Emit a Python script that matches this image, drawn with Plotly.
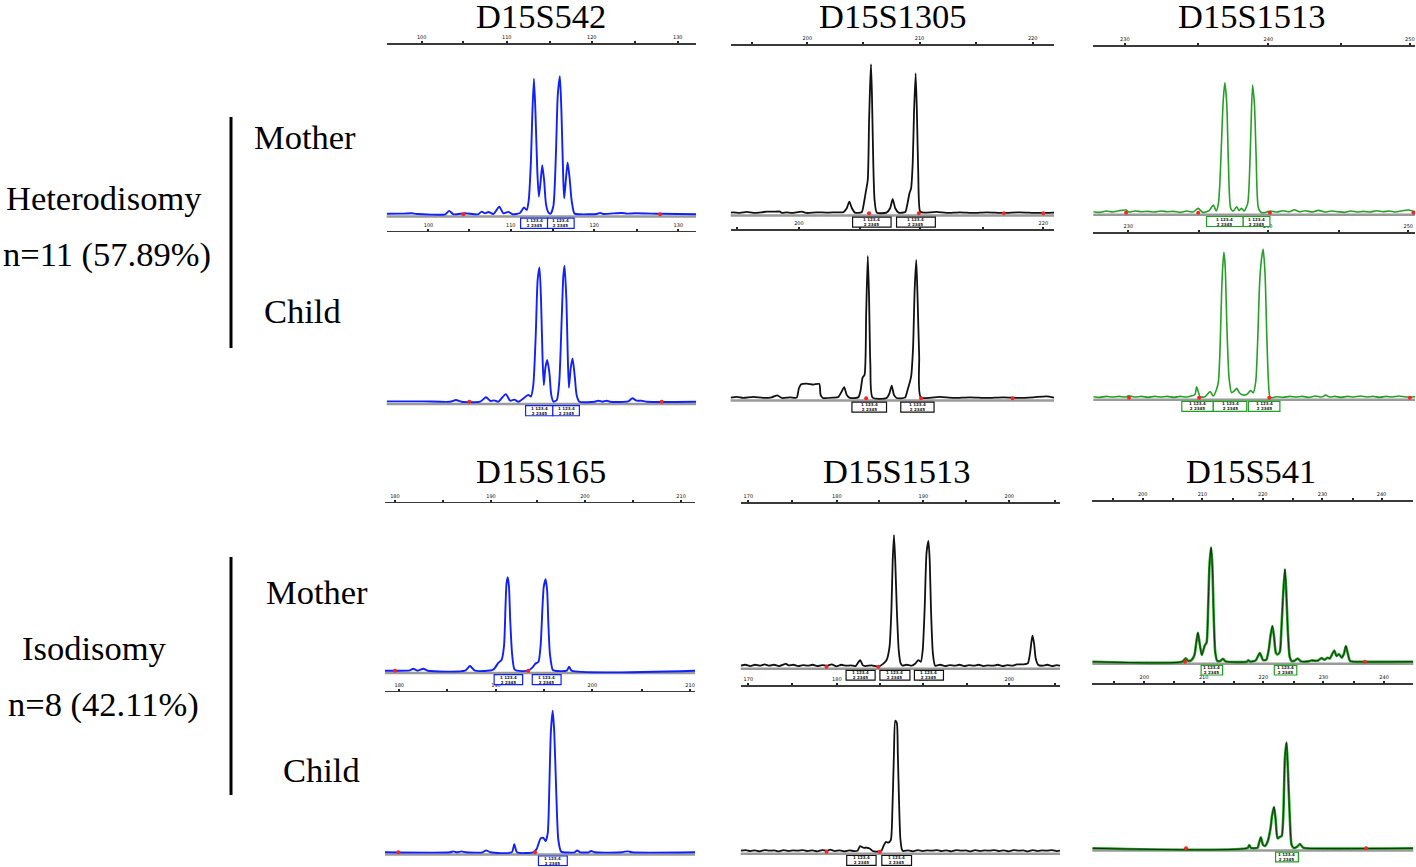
import plotly.graph_objects as go

W, H = 1416, 867

# ---------------- data (size axis 0-100 %, signal 0-100 % of panel height) ----------------
A1_x = [0, 5.4, 8.1, 9.7, 18.9, 20.2, 21.6, 25.3, 29.5, 30.7, 31.8, 32.9, 34.5, 36.4, 37.7, 39.3, 40.7, 43.1, 44.4, 45.3, 45.9, 46.6, 47.1, 47.6, 48.1, 48.7, 49.2, 49.8, 50.3, 50.9, 51.5, 52.3, 53.0, 53.9, 54.7, 55.3, 56.0, 56.5, 57.1, 57.4, 58.0, 58.5, 59.1, 59.8, 60.7, 62.5, 67.9, 69.0, 70.0, 76.0, 77.6, 80.3, 88.4, 100]
A1_y = [0.3, 0.4, 0.6, 0.2, 0, 2.0, 0, 0.6, 0, 1.6, 0.6, 1.4, 0.2, 4.5, 0.6, 1.4, 0, 0.8, 4.0, 2.5, 8, 30, 60, 80, 60, 25, 10.4, 20, 29, 20, 6, 1, 0.4, 5, 35, 70, 81.5, 60, 20, 9.4, 22, 30.6, 22, 8, 0.5, 0, 0.2, 0.8, 0.2, 0.8, 0.4, 0.6, 0.3, 0]

A2_x = [0, 11.9, 20.5, 22.4, 24.2, 30.2, 32.1, 33.6, 34.7, 36.1, 38.5, 39.9, 41.3, 42.6, 45.8, 46.6, 47.4, 48.2, 48.8, 49.4, 49.9, 50.4, 50.8, 51.3, 51.9, 52.6, 53.2, 53.9, 55.0, 55.8, 56.6, 57.1, 57.5, 58.1, 58.5, 58.9, 59.5, 60.1, 60.8, 61.4, 62.3, 67.3, 68.4, 69.8, 71.1, 72.2, 78.1, 79.4, 80.8, 82.4, 84.1, 100]
A2_y = [0.2, 0.2, 0, 1.0, 0, 0, 2.6, 0.4, 0.8, 0, 4.5, 0.6, 1.2, 0, 4, 3, 10, 40, 72, 79.3, 60, 25, 9.8, 20, 24.6, 17, 4, 0, 1, 12, 50, 74, 80.3, 60, 30, 8.3, 20, 25.6, 15, 4, 0, 0, 0.6, 0, 0.6, 0, 0.2, 2, 0.6, 0.6, 0, 0]

B1_x = [0, 0.8, 2.9, 5.0, 7.0, 9.6, 11.1, 13.2, 15.3, 15.8, 17.3, 18.9, 22.0, 23.5, 26.6, 29.7, 32.8, 34.8, 35.9, 36.7, 37.5, 38.4, 40.5, 41.2, 41.8, 42.4, 42.8, 43.1, 43.4, 43.7, 44.1, 44.5, 45.2, 48.2, 49.3, 50.1, 50.9, 51.9, 54.0, 54.6, 55.3, 55.8, 56.3, 56.7, 57.2, 57.6, 58.0, 58.6, 59.6, 63.7, 66.8, 70.9, 75.1, 79.2, 84.3, 89.5, 94.6, 100]
B1_y = [0.4, 0.6, 0.2, 0.8, 0.2, 0.6, 1.0, 1.0, 1.0, 0.2, 0.6, 0.2, 1.0, 0.2, 0.6, 0.4, 0.6, 0.6, 3, 7.0, 3, 0.4, 0.6, 6, 12.9, 20, 55, 75, 88.9, 70, 30, 8, 0.4, 0.4, 3, 8.5, 3, 0.4, 0.8, 5, 12, 14.9, 30, 60, 83.5, 60, 25, 1, 0.4, 0.8, 0.2, 0.6, 0.2, 0.6, 0.2, 0.6, 0.2, 0.4]

B2_x = [0, 1.9, 3.9, 7.0, 10.1, 12.7, 14.4, 15.8, 18.4, 20.4, 21.1, 21.8, 23.5, 25.6, 27.4, 27.8, 28.5, 31.8, 33.3, 34.3, 35.1, 35.9, 36.9, 39.5, 40.2, 40.8, 41.4, 41.9, 42.4, 42.8, 43.2, 43.9, 48.2, 49.1, 49.8, 50.5, 51.3, 53.9, 54.7, 55.8, 56.4, 56.9, 57.4, 57.8, 58.3, 58.8, 64.7, 68.9, 74.0, 79.2, 84.3, 89.5, 93.6, 97.7, 100]
B2_y = [0.4, 0.8, 0.2, 0.8, 0.2, 0.6, 1.8, 0.2, 0.6, 0.4, 6, 8.4, 8.8, 8.2, 8.6, 2, 0.2, 0.4, 0.8, 4, 6.6, 2, 0.2, 0.6, 5, 12.4, 14, 50, 85.1, 60, 20, 0.4, 0.2, 3, 7.6, 2, 0.2, 0.4, 5, 13, 30, 65, 82.7, 60, 25, 0.6, 0.8, 0.2, 0.6, 0.2, 0.6, 0.2, 0.6, 1.2, 0.4]

C1_x = [0, 2, 4, 6, 8, 10.2, 11, 13, 15, 17, 19, 21, 23, 25, 27, 29, 31, 32.6, 34, 36, 37.3, 38.2, 38.9, 39.4, 39.9, 40.4, 40.9, 41.5, 42.0, 42.7, 43.5, 44.6, 45.3, 46.1, 46.9, 48.0, 48.5, 49.0, 49.5, 50.1, 50.6, 51.3, 52.3, 53.9, 55, 57, 59, 61, 62.5, 64, 66, 68, 70, 72, 74, 76, 78, 80, 82, 84, 86, 88, 90, 92, 94, 96, 98, 100]
C1_y = [0.6, 0.2, 1.0, 0.4, 1.2, 1.6, 0.4, 1.0, 0.6, 0.8, 0.4, 1.0, 0.6, 0.8, 0.2, 1.0, 0.4, 2.6, 0.2, 1.2, 4.6, 1.0, 5.6, 20, 45, 68, 78.3, 65, 30, 2.6, 1.0, 3.6, 1.2, 2.6, 1.0, 5.6, 20, 50, 76.9, 65, 35, 3, 0, 0.4, 1.0, 0.4, 1.2, 0.6, 1.8, 0.6, 1.2, 0.4, 1.4, 0.4, 1.0, 0.6, 0.2, 1.0, 0.4, 0.8, 0.4, 1.2, 0.6, 1.0, 0.4, 1.2, 1.6, 0.6]

C2_x = [0, 2, 4, 6, 8, 10, 11, 13, 15, 17, 19, 21, 23, 25, 27, 29, 31.6, 32.1, 32.6, 33.2, 34.7, 36.3, 37.3, 38.3, 38.9, 39.4, 39.9, 40.3, 40.6, 41.0, 41.5, 42.2, 43.0, 43.8, 44.6, 45.4, 46.6, 47.7, 48.9, 49.7, 50.5, 51.1, 51.7, 52.3, 52.8, 53.4, 53.9, 54.4, 55.0, 57, 59, 61, 63, 65, 67, 69, 71, 72.2, 73.5, 75, 77, 79, 81, 83, 85, 87, 89, 91, 93, 95, 97, 100]
C2_y = [0.6, 0.2, 0.8, 0.4, 0.8, 0.4, 1.2, 0.4, 0.8, 0.2, 0.8, 0.4, 0.8, 0.2, 0.8, 0.4, 2, 6.7, 4, 0.5, 0.6, 3.7, 1, 5, 10, 30, 65, 82, 88.8, 80, 45, 12, 3, 4, 5.7, 3, 1.6, 2, 4.3, 3, 10, 35, 70, 85, 90.8, 75, 40, 12, 0, 0.6, 0.2, 0.8, 0.4, 0.8, 0.2, 1.0, 0.4, 1.6, 0.4, 0.8, 0.2, 0.8, 0.4, 1.0, 0.4, 0.8, 0.2, 0.8, 0.4, 1.0, 0.4, 0.6]

D1_x = [0, 3.2, 8, 9.1, 10.5, 12.4, 13.8, 25.8, 27.4, 29, 34.9, 36.6, 37.6, 38.4, 38.9, 39.2, 39.6, 40.0, 40.4, 41.0, 41.7, 42.5, 46.2, 47.6, 48.4, 49.5, 50.2, 50.8, 51.2, 51.8, 52.3, 52.7, 53.2, 54.1, 54.8, 58.6, 59.4, 60.2, 100]
D1_y = [0, 0, 0.2, 1.2, 0, 1.2, 0, 0, 2.8, 0, 0.6, 4.8, 6.4, 15, 40, 52, 55.8, 50, 30, 10, 1, 0, 0, 2, 4, 5.4, 15, 38, 50, 54.6, 48, 28, 10, 0.5, 0, 0, 2.4, 0, 0]

D2_x = [0, 21, 22.0, 23.2, 24.7, 26, 31.5, 32.6, 34, 40.9, 41.7, 42.6, 47.8, 48.9, 50.2, 51.1, 51.8, 52.5, 53.0, 53.5, 54.1, 54.6, 55.2, 55.9, 56.8, 57.5, 61.2, 62.0, 62.9, 65.7, 66.5, 67.7, 76.5, 77.4, 78.5, 79.6, 100]
D2_y = [0, 0, 0.6, 0, 0.6, 0, 0, 1.2, 0, 0, 5, 0, 0, 2, 8.7, 9, 7, 12, 40, 75, 88.5, 75, 40, 8, 0.5, 0, 0, 1.2, 0, 0, 0.8, 0, 0, 0.4, 0.6, 0, 0]

E1_x = [0, 1.5, 3, 4.5, 6, 7.5, 9, 10.5, 12, 13.5, 14.2, 15, 16.5, 18, 19.5, 21, 22.5, 24, 25.5, 27, 28.5, 30, 31.5, 33, 34.5, 36, 37.4, 38.2, 39, 41, 42.5, 43.5, 44.5, 45.7, 46.6, 47.2, 47.6, 48.0, 48.4, 48.9, 49.5, 50.1, 50.7, 52.0, 53.5, 54.7, 55.6, 56.4, 57.0, 57.6, 58.2, 58.8, 59.2, 59.6, 60.2, 60.9, 62.5, 64, 65.5, 67, 68.5, 70, 71.5, 73, 74.5, 76, 77.5, 79, 80.5, 82, 83.5, 85, 86.5, 88.5, 89.9, 90.6, 91.1, 91.4, 91.9, 92.4, 93.2, 94.5, 96, 97.5, 99, 100]
E1_y = [0.6, 1.2, 0.4, 1.2, 0.6, 1.4, 0.6, 1.2, 0.4, 1.4, 1.8, 0.8, 1.2, 0.4, 1.0, 0.6, 1.2, 0.4, 1.0, 0.6, 1.4, 0.2, 1.2, 0.6, 0.8, 0.4, 4.1, 1, 0.4, 0.8, 0.2, 0.4, 1.6, 4.1, 12, 35, 65, 80.9, 65, 35, 10, 2, 0.6, 1.2, 0.6, 2, 4.1, 3, 10, 35, 70, 77.3, 65, 35, 8, 0.6, 1.2, 0.4, 1.0, 0.6, 1.2, 0.4, 1.0, 0.6, 1.2, 0.4, 0.8, 0.6, 1.2, 0.4, 1.0, 0.6, 1.4, 1.4, 2, 8, 16, 19.1, 14, 5, 1, 0.6, 1.2, 0.4, 1.0, 0.6]

E2_x = [0, 1.5, 3, 4.5, 6, 7.5, 9, 10.5, 12, 13.5, 15, 16.5, 18, 19.5, 21, 22.5, 24, 25.5, 27, 28.0, 29.5, 31, 32.5, 34, 35.5, 36.6, 37.4, 38.4, 39.5, 40.5, 41.3, 43.1, 44.2, 44.7, 45.5, 46.2, 47.0, 47.5, 48.0, 48.4, 48.9, 49.2, 49.6, 50.0, 50.5, 50.9, 52.5, 54, 55.5, 57, 58.5, 60, 61.5, 63, 64.5, 66, 67.5, 69, 70.5, 72, 73.5, 75, 76.5, 78, 79.5, 81, 82.5, 84, 85.5, 87, 88.5, 90, 91.5, 93, 94.5, 96, 97.5, 99, 100]
E2_y = [0.6, 1.0, 0.4, 0.8, 0.2, 1.0, 0.6, 0.8, 0.2, 1.0, 0.4, 0.8, 0.6, 1.0, 0.4, 0.8, 0.2, 1.0, 0.6, 1.2, 0.4, 0.8, 0.2, 0.8, 0.4, 0.6, 3.4, 2.4, 2.4, 1.8, 0.4, 0.2, 1.0, 3.4, 6, 5.5, 7, 25, 60, 79.4, 78, 60, 30, 8, 1.2, 0.4, 0.8, 0.2, 1.0, 0.4, 0.8, 0.6, 1.0, 0.4, 0.8, 0.2, 1.0, 0.6, 0.8, 0.2, 1.0, 0.4, 0.8, 0.6, 1.0, 0.4, 0.8, 0.2, 1.0, 0.6, 0.8, 0.2, 1.0, 0.4, 0.8, 0.6, 1.0, 0.4, 0.6]

F1_x = [0, 28, 29.1, 29.9, 30.9, 31.8, 32.4, 32.9, 33.4, 34.1, 34.7, 35.1, 35.6, 36.1, 36.5, 37.0, 37.4, 37.8, 38.3, 38.9, 39.8, 40.7, 41.5, 48.1, 48.6, 49.3, 50.9, 52.2, 53.2, 54.2, 55.0, 55.5, 56.1, 56.6, 57.2, 57.7, 58.4, 58.9, 59.4, 60.0, 60.4, 60.9, 61.5, 62.1, 63.0, 64.0, 65.0, 67.3, 68.3, 69.4, 70.4, 71.4, 72.3, 73.3, 74.0, 74.8, 75.4, 76.1, 76.8, 77.7, 78.4, 79.0, 79.6, 80.3, 81.3, 100]
F1_y = [0, 0, 2.1, 0.4, 1.0, 4, 12, 18.1, 12, 4.2, 8, 10.4, 12, 35, 60, 71.3, 60, 30, 6, 0.6, 0.4, 1.8, 0.2, 0, 0.8, 0, 0.8, 5.4, 1.0, 1.2, 8, 16, 22.3, 16, 5.5, 4.5, 6, 20, 40, 57.7, 45, 20, 3, 0.4, 0.6, 2, 0.2, 0.2, 0.8, 0.6, 0.8, 2.3, 1.2, 2.5, 2, 5, 6.9, 3.5, 4.8, 2.5, 5, 9.8, 5, 0.4, 0, 0]

F2_x = [0, 48.4, 48.9, 49.4, 51.5, 51.9, 52.5, 53.2, 53.8, 54.6, 55.5, 56.0, 56.6, 57.1, 57.7, 58.4, 59.0, 59.5, 60.0, 60.5, 60.9, 61.5, 62.1, 62.8, 63.7, 64.7, 65.7, 66.8, 100]
F2_y = [0, 0.2, 2.0, 0.2, 0.4, 3, 6.7, 2, 1.4, 4, 12, 20, 25.3, 18, 6.1, 7, 7.5, 20, 55, 64.7, 50, 20, 2, 0.2, 0.8, 2.6, 0.4, 0, 0]

# allele-call windows (size range) and red marker sizes
A1_calls = [(43.3, 52.0), (52.0, 60.6)]
A2_calls = [(44.9, 53.7), (53.7, 62.3)]
B1_calls = [(37.7, 49.6), (51.3, 63.3)]
B2_calls = [(37.5, 48.2), (52.6, 62.9)]
C1_calls = [(35.2, 46.6), (46.6, 54.9)]
C2_calls = [(27.5, 37.3), (37.3, 47.7), (48.2, 58.0)]
D1_calls = [(35.2, 44.4), (47.5, 56.8)]
D2_calls = [(49.5, 58.8)]
E1_calls = [(33.0, 42.1), (43.6, 53.0), (54.4, 63.5)]
E2_calls = [(33.2, 42.4), (44.2, 53.5)]
F1_calls = [(33.9, 40.6), (56.7, 63.7)]
F2_calls = [(57.1, 64.2)]

A1_red = [24.8, 88.4]; A2_red = [26.7, 88.9]
B1_red = [42.8, 58.2, 84.5, 96.7]; B2_red = [41.9, 58.9, 87.2]
C1_red = [10.2, 32.6, 54.9, 99.5]; C2_red = [11.1, 32.9, 54.7, 98.4]
D1_red = [3.2, 46.2]; D2_red = [4.3, 48.4]
E1_red = [26.9, 43.1]; E2_red = [26.9, 43.6]
F1_red = [28.9, 84.9]; F2_red = [29.2, 85.3]

# top-axis ticks
A1_major = [11.3, 38.8, 66.3, 94.1]; A1_minor = [24.8, 52.8, 80.3]; A1_lab = ["100", "110", "120", "130"]
A2_major = [13.5, 40.1, 67.1, 94.3]; A2_minor = [26.7, 53.7, 80.8]; A2_lab = ["100", "110", "120", "130"]
B1_major = [23.7, 58.4, 93.4]; B1_minor = [6.5, 41.0, 75.9]; B1_lab = ["200", "210", "220"]
B2_major = [21.1, 58.6, 96.7]; B2_minor = [2.1, 40.0, 78.1]; B2_lab = ["200", "210", "220"]
C1_major = [9.8, 54.4, 98.4]; C1_minor = [32.6, 76.9]; C1_lab = ["230", "240", "250"]
C2_major = [10.9, 54.2, 97.9]; C2_minor = [33.0, 76.5]; C2_lab = ["230", "240", "250"]
D1_major = [3.2, 34.2, 64.5, 95.5]; D1_minor = [18.8, 49.1, 80.1]; D1_lab = ["180", "190", "200", "210"]
D2_major = [4.6, 35.8, 66.9, 98.4]; D2_minor = [20.1, 51.4, 82.8]; D2_lab = ["180", "190", "200", "210"]
E1_major = [2.4, 30.1, 57.2, 84.1]; E1_minor = [16.2, 43.4, 70.6, 98.4]; E1_lab = ["170", "180", "190", "200"]
E2_major = [2.4, 30.1, 57.2, 84.1]; E2_minor = [16.2, 43.6, 70.8, 98.4]; E2_lab = ["170", "180", "190", "200"]
F1_major = [15.7, 34.3, 53.1, 71.7, 90.1]; F1_minor = [6.3, 25.2, 43.9, 62.6, 81.3]; F1_lab = ["200", "210", "220", "230", "240"]
F2_major = [16.2, 34.7, 53.3, 72.0, 90.9]; F2_minor = [6.9, 25.5, 44.1, 62.8, 81.5]; F2_lab = ["200", "210", "220", "230", "240"]

BLUE, BLACK, GREEN = "#1020ff", "#111111", "#25a025"

PANELS = [
    dict(x=A1_x, y=A1_y, c=BLUE, g=(386.7, 696, 44.7, 214.3), mj=A1_major, mn=A1_minor, lb=A1_lab, calls=A1_calls, red=A1_red),
    dict(x=A2_x, y=A2_y, c=BLUE, g=(386.7, 696, 232.3, 401.7), mj=A2_major, mn=A2_minor, lb=A2_lab, calls=A2_calls, red=A2_red),
    dict(x=B1_x, y=B1_y, c=BLACK, g=(730.7, 1054, 45.7, 213.3), mj=B1_major, mn=B1_minor, lb=B1_lab, calls=B1_calls, red=B1_red),
    dict(x=B2_x, y=B2_y, c=BLACK, g=(730.7, 1054, 231, 398.3), mj=B2_major, mn=B2_minor, lb=B2_lab, calls=B2_calls, red=B2_red),
    dict(x=C1_x, y=C1_y, c=GREEN, g=(1093.3, 1415, 46.7, 212.7), mj=C1_major, mn=C1_minor, lb=C1_lab, calls=C1_calls, red=C1_red),
    dict(x=C2_x, y=C2_y, c=GREEN, g=(1093.3, 1415, 234, 397.7), mj=C2_major, mn=C2_minor, lb=C2_lab, calls=C2_calls, red=C2_red),
    dict(x=D1_x, y=D1_y, c=BLUE, g=(385, 695, 503.3, 670.7), mj=D1_major, mn=D1_minor, lb=D1_lab, calls=D1_calls, red=D1_red),
    dict(x=D2_x, y=D2_y, c=BLUE, g=(385, 695, 692.3, 852.3), mj=D2_major, mn=D2_minor, lb=D2_lab, calls=D2_calls, red=D2_red),
    dict(x=E1_x, y=E1_y, c=BLACK, g=(740.7, 1060, 504, 666.7), mj=E1_major, mn=E1_minor, lb=E1_lab, calls=E1_calls, red=E1_red),
    dict(x=E2_x, y=E2_y, c=BLACK, g=(740.7, 1060, 686.7, 851.7), mj=E2_major, mn=E2_minor, lb=E2_lab, calls=E2_calls, red=E2_red),
    dict(x=F1_x, y=F1_y, c=GREEN, g=(1092.3, 1413.3, 501.7, 661.7), mj=F1_major, mn=F1_minor, lb=F1_lab, calls=F1_calls, red=F1_red, core=True),
    dict(x=F2_x, y=F2_y, c=GREEN, g=(1092.3, 1413.3, 685, 848.3), mj=F2_major, mn=F2_minor, lb=F2_lab, calls=F2_calls, red=F2_red, core=True),
]

fig = go.Figure()
layout = {}
shapes = []
annotations = []

for i, p in enumerate(PANELS, start=1):
    assert len(p["x"]) == len(p["y"]), i
    sx = "" if i == 1 else str(i)
    xa, ya = "x" + sx, "y" + sx
    left, right, top, base = p["g"]
    h = base - top
    bottom = min(base + h * 0.10, H - 0.5)
    ymin = -(bottom - base) / h * 100.0
    layout["xaxis" + sx] = dict(
        domain=[left / W, min(right / W, 1.0)], range=[0, 100], side="top", anchor=ya,
        showline=True, linecolor="#3a3a3a", linewidth=1.6, showgrid=False, zeroline=False,
        ticks="outside", ticklen=2, tickwidth=2, tickcolor="#222",
        tickvals=p["mj"] + p["mn"], ticktext=p["lb"] + [""] * len(p["mn"]),
        tickfont=dict(size=5, color="#111", family="DejaVu Sans"), fixedrange=True,
    )
    layout["yaxis" + sx] = dict(domain=[max(0.0, 1 - bottom / H), 1 - top / H], range=[ymin, 100],
                                visible=False, anchor=xa, fixedrange=True)
    # grey baseline band
    shapes.append(dict(type="line", xref=xa + " domain", yref=ya, x0=0, x1=1, y0=-1.3, y1=-1.3,
                       line=dict(color="#9a9a9a", width=2.5), layer="below"))
    # trace
    if p.get("core"):
        fig.add_trace(go.Scatter(x=p["x"], y=p["y"], mode="lines", xaxis=xa, yaxis=ya,
                                 line=dict(color=p["c"], width=2.6, shape="spline", smoothing=0.6),
                                 hoverinfo="skip"))
        fig.add_trace(go.Scatter(x=p["x"], y=p["y"], mode="lines", xaxis=xa, yaxis=ya,
                                 line=dict(color="#102010", width=0.9, shape="spline", smoothing=0.6),
                                 hoverinfo="skip"))
    else:
        width = 1.9 if p["c"] == BLUE else (1.8 if p["c"] == BLACK else 1.6)
        fig.add_trace(go.Scatter(x=p["x"], y=p["y"], mode="lines", xaxis=xa, yaxis=ya,
                                 line=dict(color=p["c"], width=width, shape="spline", smoothing=0.6),
                                 hoverinfo="skip"))
    # red markers
    fig.add_trace(go.Scatter(x=p["red"], y=[0] * len(p["red"]), mode="markers", xaxis=xa, yaxis=ya,
                             marker=dict(color="#ff2020", size=4, symbol="circle"), hoverinfo="skip"))
    # allele-call boxes
    for (a, b) in p["calls"]:
        y_lo = max(-8.3, ymin + 0.5)
        shapes.append(dict(type="rect", xref=xa, yref=ya, x0=a, x1=b, y0=-2.3, y1=y_lo,
                           line=dict(color=p["c"] if p["c"] != GREEN else "#20a020", width=1.2),
                           fillcolor="white", layer="above"))
        annotations.append(dict(xref=xa, yref=ya, x=(a + b) / 2, y=(-2.3 + y_lo) / 2,
                                showarrow=False,
                                text="<b>1 123.4<br>2 2345</b>",
                                font=dict(size=4, color="#111", family="DejaVu Sans"),
                                xanchor="center", yanchor="middle"))

SERIF = "Liberation Serif"
FS = 34.5

def label(text, px, py, size=FS):
    annotations.append(dict(xref="paper", yref="paper", x=px / W, y=1 - py / H, text=text,
                            showarrow=False, xanchor="center", yanchor="middle",
                            font=dict(family=SERIF, size=size, color="black")))

COL_TITLES_TOP = ["D15S542", "D15S1305", "D15S1513"]
COL_TITLES_BOTTOM = ["D15S165", "D15S1513", "D15S541"]
for t, px in zip(COL_TITLES_TOP, [541, 893, 1252]):
    label(t, px, 16)
for t, px in zip(COL_TITLES_BOTTOM, [541, 897, 1251]):
    label(t, px, 471)

label("Mother", 305, 137)
label("Child", 302, 311)
label("Heterodisomy", 104, 198)
label("n=11 (57.89%)", 107, 254)
label("Mother", 317, 592)
label("Child", 321, 770)
label("Isodisomy", 94, 648)
label("n=8 (42.11%)", 103, 704)

for (y0, y1) in [(117, 348), (557, 795)]:
    shapes.append(dict(type="line", xref="paper", yref="paper", x0=231 / W, x1=231 / W,
                       y0=1 - y0 / H, y1=1 - y1 / H, line=dict(color="black", width=3)))

fig.update_layout(
    width=W, height=H, margin=dict(l=0, r=0, t=0, b=0), autosize=False,
    paper_bgcolor="white", plot_bgcolor="white", showlegend=False, hovermode=False,
    shapes=shapes, annotations=annotations, **layout,
)
fig.write_html("out.html", config={"displayModeBar": False, "staticPlot": True},
               post_script="document.body.style.margin='0';document.body.style.padding='0';"
                           "document.body.style.overflow='hidden';")
